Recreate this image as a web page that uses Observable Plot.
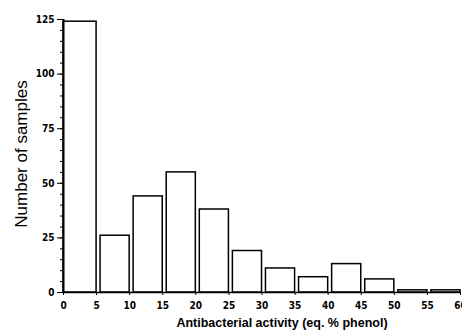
<!DOCTYPE html>
<html>
<head>
<meta charset="utf-8">
<script src="https://cdn.jsdelivr.net/npm/d3@7"></script>
<script src="https://cdn.jsdelivr.net/npm/@observablehq/plot@0.6"></script>
<style>
  html, body { margin: 0; padding: 0; background: #fff; }
  svg { display: block; }
</style>
</head>
<body>
<div id="chart"></div>
<script>
const binStart = [0, 5, 10, 15, 20, 25, 30, 35, 40, 45, 50, 55];
const binWidth = 5;
const counts = [124, 26, 44, 55, 38, 19, 11, 7, 13, 6, 1, 1];
const xTicks = [0, 5, 10, 15, 20, 25, 30, 35, 40, 45, 50, 55, 60];
const yTicks = [0, 25, 50, 75, 100, 125];
const yMinor = d3.range(0, 126, 5);
const xLabel = "Antibacterial activity (eq. % phenol)";
const yLabel = "Number of samples";

const data = binStart.map((s, i) => ({start: s, end: s + binWidth, count: counts[i]}));
const tickFont = "'Liberation Sans Narrow', 'DejaVu Sans Condensed', sans-serif";

const chart = Plot.plot({
  width: 462,
  height: 331,
  marginLeft: 63,
  marginRight: 2,
  marginTop: 19,
  marginBottom: 39,
  style: {background: "#fff", color: "#000"},
  x: {domain: [0, 60]},
  y: {domain: [0, 125]},
  marks: [
    Plot.rect(data, {
      x1: d => d.start + (d.start > 0 ? 0.6 : 0),
      x2: "end",
      y1: 0,
      y2: "count",
      fill: "#fff",
      stroke: "#000",
      strokeWidth: 1.5
    }),
    Plot.ruleY([0], {stroke: "#000", strokeWidth: 1.5}),
    Plot.ruleX([0], {stroke: "#000", strokeWidth: 2}),
    Plot.axisY(yMinor, {tickSize: 3, tickFormat: () => "", label: null, stroke: "#000"}),
    Plot.axisY(yTicks, {tickSize: 6, tickPadding: 3, label: null, fontFamily: tickFont, fontWeight: "bold", fontSize: 10, stroke: "#000", fill: "#000"}),
    Plot.axisX(xTicks, {tickSize: 3, tickPadding: 6, label: null, fontFamily: tickFont, fontWeight: "bold", fontSize: 10, stroke: "#000", fill: "#000"}),
    Plot.text([xLabel], {frameAnchor: "bottom", dx: 20, dy: 34, fontFamily: "'Liberation Sans', Arial, sans-serif", fontWeight: "bold", fontSize: 12.5, fill: "#000"}),
    Plot.text([yLabel], {frameAnchor: "left", textAnchor: "middle", rotate: -90, dx: -42, dy: -2, fontFamily: "'Liberation Sans', Arial, sans-serif", fontSize: 17, fill: "#000"})
  ]
});
document.getElementById("chart").appendChild(chart);
</script>
</body>
</html>
